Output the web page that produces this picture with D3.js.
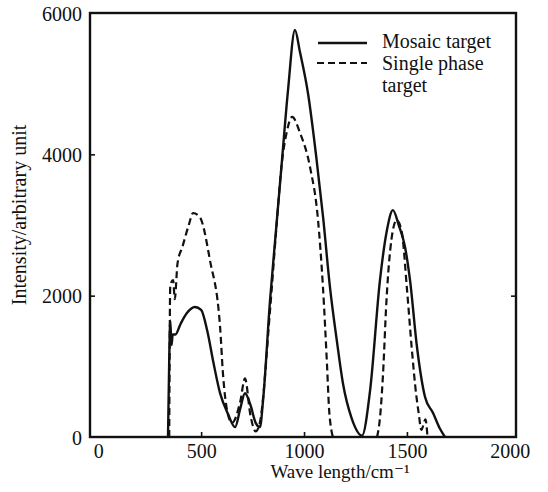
<!DOCTYPE html>
<html>
<head>
<meta charset="utf-8">
<script src="https://cdn.jsdelivr.net/npm/d3@7/dist/d3.min.js"></script>
<style>
  body { margin: 0; background: #fff; }
  svg text { font-family: "Liberation Serif", "DejaVu Serif", serif; fill: #111; }
</style>
</head>
<body>
<div id="chart"></div>
<script>
// wave numbers (cm^-1) and intensities
const mosaicX = [339, 345, 350, 356, 362, 375, 400, 430, 470, 500, 530, 560, 592, 630, 665, 690, 713, 740, 765, 786,
    801, 835, 864, 893, 922, 956, 980, 1020, 1060, 1093, 1126, 1160, 1189, 1232, 1282,
    1321, 1369, 1403, 1432, 1460, 1490, 1515, 1549, 1588, 1627, 1660, 1685];
const mosaicY = [0, 1100, 1650, 1300, 1450, 1450, 1600, 1750, 1840, 1800, 1500, 1050, 620, 330, 140, 400, 620, 450, 200, 140,
    520, 1940, 2930, 3920, 4900, 5760, 5450, 4850, 3950, 3100, 2120, 1350, 760, 260, 20,
    660, 2220, 2930, 3210, 3000, 2700, 2220, 1270, 566, 340, 120, 0];

const singleX = [345, 350, 364, 372, 385, 410, 440, 461, 494, 543, 592, 606, 626, 650, 690, 713, 740, 765, 785,
    835, 864, 893, 915, 942, 981, 1029, 1068, 1092, 1112, 1122, 1130, 1140,
    1355, 1370, 1384, 1400, 1425, 1450, 1475, 1500, 1523, 1545, 1557, 1570, 1590, 1600];
const singleY = [0, 2150, 2220, 1950, 2450, 2700, 3000, 3170, 3110, 2500, 1560, 900, 380, 200, 500, 830, 300, 80, 200,
    1800, 2900, 3900, 4300, 4530, 4300, 3820, 3070, 2120, 1000, 380, 150, 0,
    0, 300, 900, 1900, 2800, 3070, 2900, 2100, 1270, 600, 340, 100, 250, 0];

const xTicks = [0, 500, 1000, 1500, 2000];
const yTicks = [0, 2000, 4000, 6000];

const width = 548, height = 492;
const frame = { left: 90, right: 516, top: 13, bottom: 437 };

const svg = d3.select("#chart").append("svg")
    .attr("width", width)
    .attr("height", height);

const x = d3.scaleLinear().domain([-40, 2030]).range([frame.left, frame.right]);
const y = d3.scaleLinear().domain([0, 6000]).range([frame.bottom, frame.top]);

// axes with short inward ticks
const xAxis = svg.append("g")
    .attr("transform", `translate(0, ${frame.bottom})`)
    .call(d3.axisBottom(x).tickValues(xTicks).tickSize(-5).tickFormat(d3.format("d")));
xAxis.select(".domain").remove();
xAxis.selectAll("line").attr("stroke", "#111").attr("stroke-width", 1.6)
    .attr("opacity", d => (d === 0 || d === 2000) ? 0 : 1);
xAxis.selectAll("text").attr("y", 16).attr("dy", 0).attr("dominant-baseline", "middle")
    .style("font-size", "20px");

const yAxis = svg.append("g")
    .attr("transform", `translate(${frame.left}, 0)`)
    .call(d3.axisLeft(y).tickValues(yTicks).tickSize(-5).tickFormat(d3.format("d")));
yAxis.select(".domain").remove();
yAxis.selectAll("line").attr("stroke", "#111").attr("stroke-width", 1.6)
    .attr("opacity", d => (d === 0 || d === 6000) ? 0 : 1);
yAxis.selectAll("text").attr("x", -8).attr("dy", "0.35em").style("font-size", "20px");

const rAxis = svg.append("g")
    .attr("transform", `translate(${frame.right}, 0)`)
    .call(d3.axisRight(y).tickValues([2000]).tickSize(-5).tickFormat(""));
rAxis.select(".domain").remove();
rAxis.selectAll("line").attr("stroke", "#111").attr("stroke-width", 1.6);

// frame
svg.append("rect")
    .attr("x", frame.left)
    .attr("y", frame.top)
    .attr("width", frame.right - frame.left)
    .attr("height", frame.bottom - frame.top)
    .attr("fill", "none")
    .attr("stroke", "#111")
    .attr("stroke-width", 2.4);

const line = d3.line()
    .x(d => x(d[0]))
    .y(d => y(d[1]))
    .curve(d3.curveMonotoneX);

const single = singleX.map((v, i) => [v, singleY[i]]);
const mosaic = mosaicX.map((v, i) => [v, mosaicY[i]]);

// dashed curve is drawn in two pieces (gap near 1250)
[single.slice(0, 32), single.slice(32)].forEach(part => {
    svg.append("path")
        .attr("d", line(part))
        .attr("fill", "none")
        .attr("stroke", "#111")
        .attr("stroke-width", 2.2)
        .attr("stroke-dasharray", "7,4");
});

svg.append("path")
    .attr("d", line(mosaic))
    .attr("fill", "none")
    .attr("stroke", "#111")
    .attr("stroke-width", 2.4);

// legend
const legend = svg.append("g");
legend.append("line")
    .attr("x1", 318).attr("x2", 367).attr("y1", 43).attr("y2", 43)
    .attr("stroke", "#111").attr("stroke-width", 2.4);
legend.append("line")
    .attr("x1", 317).attr("x2", 367).attr("y1", 63).attr("y2", 63)
    .attr("stroke", "#111").attr("stroke-width", 2.2)
    .attr("stroke-dasharray", "7,4");
legend.append("text").attr("x", 382).attr("y", 48).style("font-size", "20px").text("Mosaic target");
legend.append("text").attr("x", 382).attr("y", 70).style("font-size", "20px").text("Single phase");
legend.append("text").attr("x", 382).attr("y", 92).style("font-size", "20px").text("target");

// axis titles
svg.append("text")
    .attr("x", 340).attr("y", 478)
    .attr("text-anchor", "middle")
    .style("font-size", "19px")
    .text("Wave length/cm\u207B\u00B9");

svg.append("text")
    .attr("transform", "translate(26, 215) rotate(-90)")
    .attr("text-anchor", "middle")
    .style("font-size", "20px")
    .text("Intensity/arbitrary unit");
</script>
</body>
</html>
